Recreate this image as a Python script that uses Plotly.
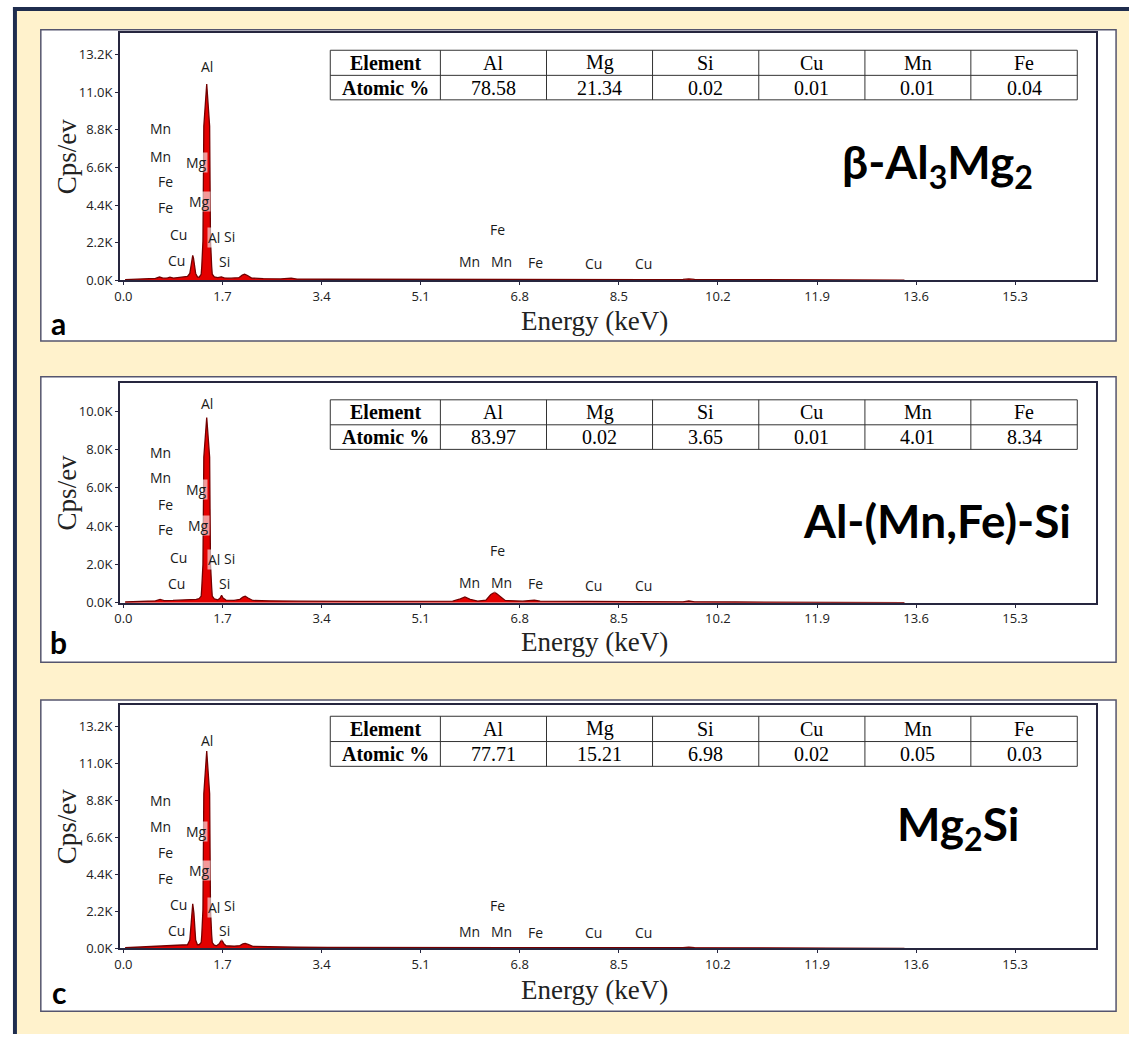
import plotly.graph_objects as go

# ---------------- data ----------------
x_ticks = [0.0, 1.7, 3.4, 5.1, 6.8, 8.5, 10.2, 11.9, 13.6, 15.3]
x_ticktext = ["0.0", "1.7", "3.4", "5.1", "6.8", "8.5", "10.2", "11.9", "13.6", "15.3"]
y_ticks_ac = [0.0, 2.2, 4.4, 6.6, 8.8, 11.0, 13.2]
y_ticks_b = [0.0, 2.0, 4.0, 6.0, 8.0, 10.0]

# spectrum a (keV, kcps/eV)
energy_a = [0.03, 0.15, 0.30, 0.45, 0.55, 0.62, 0.68, 0.76, 0.80, 0.86, 0.95, 1.05,
            1.10, 1.140, 1.160, 1.177, 1.190, 1.203, 1.220, 1.240, 1.27,
            1.300, 1.335, 1.345, 1.365, 1.375, 1.380, 1.430, 1.480, 1.485, 1.495, 1.515, 1.525, 1.56,
            1.62, 1.68, 1.73, 1.85, 1.98, 2.04, 2.08, 2.13, 2.20, 2.40, 2.70, 2.88, 2.98,
            3.50, 4.50, 5.50, 6.40, 7.50, 9.00, 9.60, 9.70, 9.80, 10.50, 11.50, 12.50, 13.40]
counts_a = [0.04, 0.06, 0.08, 0.10, 0.11, 0.19, 0.12, 0.14, 0.18, 0.13, 0.15, 0.17,
            0.22, 0.40, 0.90, 1.30, 1.45, 1.30, 0.90, 0.40, 0.20,
            0.18, 0.35, 0.80, 2.30, 6.60, 9.00, 11.48, 9.00, 6.60, 2.30, 0.80, 0.35, 0.20,
            0.15, 0.20, 0.14, 0.12, 0.15, 0.30, 0.36, 0.28, 0.13, 0.10, 0.08, 0.12, 0.07,
            0.06, 0.05, 0.05, 0.06, 0.05, 0.04, 0.05, 0.08, 0.05, 0.04, 0.03, 0.02, 0.01]

# spectrum b
energy_b = [0.03, 0.20, 0.40, 0.55, 0.63, 0.70, 0.85, 1.00, 1.15, 1.25,
            1.300, 1.335, 1.345, 1.365, 1.375, 1.380, 1.430, 1.480, 1.485, 1.495, 1.515, 1.525, 1.56,
            1.62, 1.66, 1.685, 1.71, 1.76, 1.90, 2.00, 2.05, 2.09, 2.14, 2.22, 2.50, 2.90, 3.00,
            4.00, 5.00, 5.65, 5.78, 5.86, 5.95, 6.08, 6.22, 6.30, 6.37, 6.44, 6.55, 6.85, 6.98, 7.05, 7.15,
            8.00, 9.00, 9.60, 9.70, 9.80, 10.50, 11.50, 12.50, 13.40]
counts_b = [0.04, 0.07, 0.09, 0.10, 0.17, 0.11, 0.12, 0.13, 0.16, 0.18,
            0.22, 0.35, 0.80, 2.00, 5.60, 7.60, 9.68, 7.60, 5.60, 2.00, 0.80, 0.35, 0.20,
            0.15, 0.25, 0.39, 0.25, 0.14, 0.12, 0.18, 0.30, 0.34, 0.25, 0.12, 0.10, 0.11, 0.08,
            0.07, 0.07, 0.08, 0.20, 0.30, 0.18, 0.09, 0.14, 0.42, 0.56, 0.40, 0.12, 0.08, 0.12, 0.13, 0.08,
            0.06, 0.05, 0.05, 0.09, 0.05, 0.04, 0.03, 0.02, 0.01]

# spectrum c
energy_c = [0.03, 0.15, 0.30, 0.45, 0.60, 0.70, 0.85, 1.00,
            1.10, 1.140, 1.157, 1.170, 1.190, 1.210, 1.223, 1.240, 1.27,
            1.300, 1.335, 1.345, 1.365, 1.375, 1.380, 1.430, 1.480, 1.485, 1.495, 1.515, 1.525, 1.56,
            1.60, 1.65, 1.685, 1.72, 1.76, 1.90, 2.00, 2.05, 2.09, 2.14, 2.22, 2.50, 2.88, 2.98,
            3.50, 4.50, 5.50, 6.40, 7.50, 9.00, 9.60, 9.70, 9.80, 10.50, 11.50, 12.50, 13.40]
counts_c = [0.04, 0.06, 0.08, 0.10, 0.12, 0.13, 0.15, 0.18,
            0.22, 0.50, 1.20, 2.10, 2.65, 2.10, 1.20, 0.50, 0.22,
            0.22, 0.35, 0.80, 2.30, 6.80, 9.20, 11.74, 9.20, 6.80, 2.30, 0.80, 0.35, 0.20,
            0.16, 0.30, 0.53, 0.30, 0.16, 0.13, 0.17, 0.27, 0.30, 0.24, 0.12, 0.10, 0.11, 0.07,
            0.06, 0.05, 0.05, 0.06, 0.05, 0.04, 0.05, 0.08, 0.05, 0.04, 0.03, 0.02, 0.01]

# peak labels: (text, keV, kcps/eV)
labels_a = [("Al", 1.428, 12.49), ("Mn", 0.643, 8.85), ("Mn", 0.643, 7.25), ("Mg", 1.246, 6.86),
            ("Fe", 0.717, 5.76), ("Fe", 0.717, 4.26), ("Mg", 1.302, 4.60), ("Cu", 0.944, 2.67),
            ("Al", 1.553, 2.48), ("Si", 1.826, 2.57), ("Cu", 0.916, 1.18), ("Si", 1.729, 1.12),
            ("Fe", 6.416, 2.94), ("Mn", 5.930, 1.08), ("Mn", 6.493, 1.08), ("Fe", 7.065, 1.05),
            ("Cu", 8.063, 1.00), ("Cu", 8.925, 1.00)]
labels_b = [("Al", 1.428, 10.43), ("Mn", 0.643, 7.87), ("Mn", 0.643, 6.53), ("Mg", 1.258, 5.93),
            ("Fe", 0.717, 5.15), ("Fe", 0.717, 3.85), ("Mg", 1.285, 4.02), ("Cu", 0.944, 2.38),
            ("Al", 1.553, 2.26), ("Si", 1.826, 2.29), ("Cu", 0.916, 1.00), ("Si", 1.729, 1.00),
            ("Fe", 6.416, 2.73), ("Mn", 5.930, 1.08), ("Mn", 6.493, 1.08), ("Fe", 7.065, 1.01),
            ("Cu", 8.063, 0.91), ("Cu", 8.925, 0.91)]
labels_c = [("Al", 1.428, 12.39), ("Mn", 0.643, 8.79), ("Mn", 0.643, 7.28), ("Mg", 1.246, 6.98),
            ("Fe", 0.717, 5.70), ("Fe", 0.717, 4.19), ("Mg", 1.302, 4.62), ("Cu", 0.944, 2.62),
            ("Al", 1.553, 2.42), ("Si", 1.826, 2.56), ("Cu", 0.916, 1.09), ("Si", 1.729, 1.09),
            ("Fe", 6.416, 2.58), ("Mn", 5.930, 0.98), ("Mn", 6.493, 0.98), ("Fe", 7.065, 0.95),
            ("Cu", 8.063, 0.92), ("Cu", 8.925, 0.92)]

table_elements = ["Al", "Mg", "Si", "Cu", "Mn", "Fe"]
atomic_a = [78.58, 21.34, 0.02, 0.01, 0.01, 0.04]
atomic_b = [83.97, 0.02, 3.65, 0.01, 4.01, 8.34]
atomic_c = [77.71, 15.21, 6.98, 0.02, 0.05, 0.03]

phase_a = "β-Al<sub>3</sub>Mg<sub>2</sub>"
phase_b = "Al-(Mn,Fe)-Si"
phase_c = "Mg<sub>2</sub>Si"

# ---------------- layout helpers ----------------
W, H = 1129, 1043
def px(x): return x / W
def py(y): return 1 - y / H

CREAM = "#FFF2CC"
NAVY = "#1F2D4E"
FRAME = "#26263F"
PANEL_LINE = "#55556E"

X0_PX, KEV_PX = 118.0, 58.6
x_range = [(114.5 - X0_PX) / KEV_PX, (1095.5 - X0_PX) / KEV_PX]

panels = [
    dict(sfx="", energy=energy_a, counts=counts_a, labels=labels_a, atomic=atomic_a, phase=phase_a,
         frame=(33.3, 282.7), ymax=14.46, yticks=y_ticks_ac, box=(30, 344),
         table_y=(50.7, 76.0, 100.7), phase_xy=(936, 166), letter="a", letter_y=326, etitle_y=324),
    dict(sfx="2", energy=energy_b, counts=counts_b, labels=labels_b, atomic=atomic_b, phase=phase_b,
         frame=(386.0, 608.0), ymax=11.5, yticks=y_ticks_b, box=(380, 668),
         table_y=(403.3, 428.5, 453.3), phase_xy=(936, 525), letter="b", letter_y=648, etitle_y=648),
    dict(sfx="3", energy=energy_c, counts=counts_c, labels=labels_c, atomic=atomic_c, phase=phase_c,
         frame=(710.7, 956.7), ymax=14.51, yticks=y_ticks_ac, box=(706, 1020),
         table_y=(722.5, 748.0, 773.0), phase_xy=(958, 834), letter="c", letter_y=1001, etitle_y=999),
]

table_cols = [326.0, 436.7, 543.4, 650.0, 756.8, 863.5, 970.0, 1077.0]

fig = go.Figure()
shapes = []
annotations = []

def paper_text(txt, x, y, font, **kw):
    d = dict(text=txt, x=px(x), y=py(y), xref="paper", yref="paper", showarrow=False,
             xanchor="center", yanchor="middle", font=font)
    d.update(kw)
    annotations.append(d)

# page background
shapes.append(dict(type="rect", xref="paper", yref="paper", x0=px(11), x1=1, y0=0, y1=py(11),
                   fillcolor=CREAM, line_width=0, layer="below"))
shapes.append(dict(type="rect", xref="paper", yref="paper", x0=px(7), x1=1, y0=py(11), y1=py(7),
                   fillcolor=NAVY, line_width=0, layer="below"))
shapes.append(dict(type="rect", xref="paper", yref="paper", x0=px(7), x1=px(11), y0=0, y1=py(7),
                   fillcolor=NAVY, line_width=0, layer="below"))

axis_common = dict(showline=True, mirror=True, linecolor=FRAME, linewidth=1.7, ticks="outside",
                   ticklen=3, tickwidth=1, tickcolor=FRAME, showgrid=False, zeroline=False,
                   tickfont=dict(family="Open Sans", size=13, color="#222222"), fixedrange=True)

for p in panels:
    s = p["sfx"]
    top, bot = p["frame"]
    # white panel box
    shapes.append(dict(type="rect", xref="paper", yref="paper", x0=px(35), x1=px(1116),
                       y0=py(p["box"][1]), y1=py(p["box"][0]), fillcolor="white",
                       line=dict(color=PANEL_LINE, width=1.5), layer="below"))
    fig.add_trace(go.Scatter(x=p["energy"], y=p["counts"], xaxis="x" + s, yaxis="y" + s,
                             mode="lines", fill="tozeroy", fillcolor="rgb(228,0,0)",
                             line=dict(color="rgb(115,0,0)", width=1.3),
                             hoverinfo="skip", showlegend=False))
    xa = dict(axis_common, domain=[px(114.5), px(1095.5)], range=x_range, anchor="y" + s,
              tickvals=x_ticks, ticktext=x_ticktext)
    ya = dict(axis_common, domain=[py(bot), py(top)], range=[0, p["ymax"]], anchor="x" + s,
              tickvals=p["yticks"], ticktext=[f"{v:.1f}K" for v in p["yticks"]])
    fig.update_layout(**{"xaxis" + s: xa, "yaxis" + s: ya})

    # peak labels
    for txt, ex, ey in p["labels"]:
        annotations.append(dict(text=txt, x=ex, y=ey, xref="x" + s, yref="y" + s, showarrow=False,
                                xanchor="center", yanchor="middle",
                                font=dict(family="Open Sans", size=14, color="#1a1a1a"),
                                bgcolor="rgba(255,255,255,0.6)", borderpad=0))
    # axis titles
    paper_text("Cps/ev", 61, (top + bot) / 2,
               dict(family="Liberation Serif", size=27, color="#222222"), textangle=-90)
    paper_text("Energy (keV)", 592, p["etitle_y"],
               dict(family="Liberation Serif", size=27, color="#222222"))
    # panel letter
    paper_text("<b>" + p["letter"] + "</b>", 53, p["letter_y"],
               dict(family="Lato", size=30, color="black"))
    # phase name
    paper_text("<b>" + p["phase"] + "</b>", p["phase_xy"][0], p["phase_xy"][1],
               dict(family="Lato", size=46, color="black"))
    # table
    t0, t1, t2 = p["table_y"]
    shapes.append(dict(type="rect", xref="paper", yref="paper", x0=px(table_cols[0]), x1=px(table_cols[-1]),
                       y0=py(t2), y1=py(t0), fillcolor="white", line=dict(color="#333333", width=1),
                       layer="above"))
    shapes.append(dict(type="line", xref="paper", yref="paper", x0=px(table_cols[0]), x1=px(table_cols[-1]),
                       y0=py(t1), y1=py(t1), line=dict(color="#333333", width=1), layer="above"))
    for cx in table_cols[1:-1]:
        shapes.append(dict(type="line", xref="paper", yref="paper", x0=px(cx), x1=px(cx),
                           y0=py(t2), y1=py(t0), line=dict(color="#333333", width=1), layer="above"))
    row1 = ["<b>Element</b>"] + table_elements
    row2 = ["<b>Atomic %</b>"] + [f"{v:.2f}" for v in p["atomic"]]
    for i in range(7):
        cx = (table_cols[i] + table_cols[i + 1]) / 2
        paper_text(row1[i], cx, (t0 + t1) / 2, dict(family="Liberation Serif", size=20, color="black"))
        paper_text(row2[i], cx, (t1 + t2) / 2, dict(family="Liberation Serif", size=20, color="black"))

fig.update_layout(width=W, height=H, margin=dict(l=0, r=0, t=0, b=0), paper_bgcolor="white",
                  plot_bgcolor="rgba(0,0,0,0)", shapes=shapes, annotations=annotations,
                  showlegend=False)

fig.write_html("out.html")
